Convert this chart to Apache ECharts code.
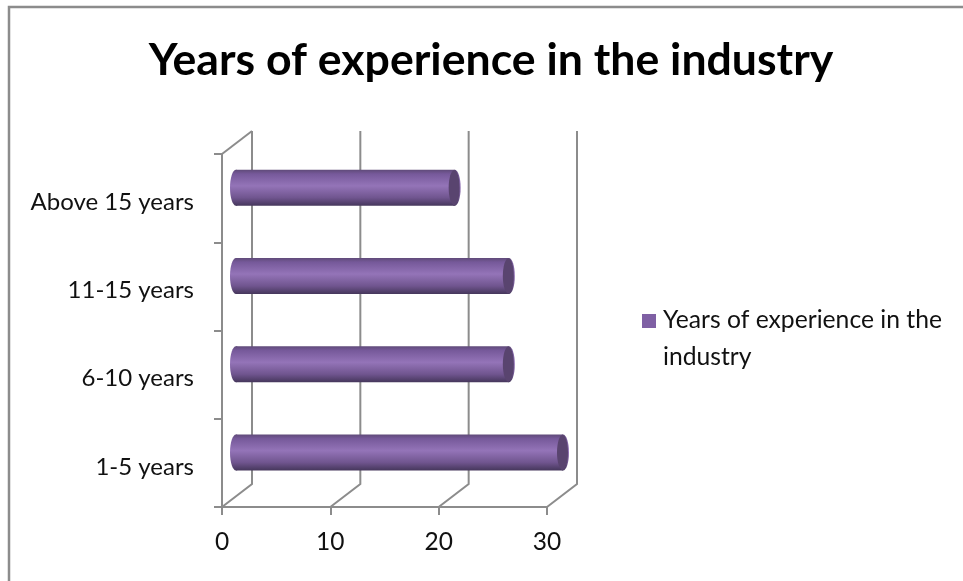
<!DOCTYPE html>
<html>
<head>
<meta charset="utf-8">
<style>html,body{margin:0;padding:0;background:#fff}#c{width:963px;height:581px}</style>
<script src="https://cdn.jsdelivr.net/npm/echarts@6/dist/echarts.min.js"></script>
</head>
<body>
<div id="c"></div>
<script>
const categories = ['1-5 years', '6-10 years', '11-15 years', 'Above 15 years'];
const experience = [30, 25, 25, 20];
const axisTicks = [0, 10, 20, 30];
const seriesName = 'Years of experience in the industry';

// Perspective offset between the front plane of the plot and its back wall.
const DEPTH_X = 30, DEPTH_Y = -23;
const GRID_COLOR = '#8c8c8c';
const FONT = 'Lato, "Noto Sans", sans-serif';

const chart = echarts.init(document.getElementById('c'), null, { renderer: 'canvas' });

function renderWalls(params, api) {
  const v = api.value(0);
  const box = params.coordSys;
  const x = api.coord([v, 0])[0];
  const yBottom = box.y + box.height;
  const yTop = box.y;
  const style = { stroke: GRID_COLOR, lineWidth: 2, fill: null };
  const points = [
    [x, yBottom],
    [x + DEPTH_X, yBottom + DEPTH_Y],
    [x + DEPTH_X, yTop + DEPTH_Y]
  ];
  const children = [{ type: 'polyline', shape: { points }, style }];
  if (v === 0) {
    children.push({ type: 'line', shape: { x1: x, y1: yTop, x2: x + DEPTH_X, y2: yTop + DEPTH_Y }, style });
  }
  return { type: 'group', children };
}

function renderCylinder(params, api) {
  const start = api.coord([0, api.value(1)]);
  const end = api.coord([api.value(0), api.value(1)]);
  const cy = start[1] + DEPTH_Y / 2 + 1;
  const x0 = start[0] + DEPTH_X / 2 - 1;
  const x1 = end[0] + DEPTH_X / 2 + 1;
  const h = 36, rx = 6, ry = h / 2;
  const bodyFill = new echarts.graphic.LinearGradient(0, 0, 0, 1, [
    { offset: 0, color: '#5f4a78' },
    { offset: 0.12, color: '#76599a' },
    { offset: 0.45, color: '#9474b8' },
    { offset: 0.78, color: '#70558f' },
    { offset: 1, color: '#46375c' }
  ]);
  return {
    type: 'group',
    children: [
      { type: 'rect', shape: { x: x0, y: cy - ry, width: x1 - x0, height: h }, style: { fill: bodyFill } },
      { type: 'ellipse', shape: { cx: x0, cy, rx, ry }, style: { fill: bodyFill } },
      { type: 'ellipse', shape: { cx: x1, cy, rx, ry }, style: { fill: bodyFill } },
      { type: 'ellipse', shape: { cx: x1 - 0.5, cy, rx: rx - 0.5, ry: ry - 0.5 }, style: { fill: '#59446f' } }
    ]
  };
}

chart.setOption({
  animation: false,
  backgroundColor: '#fff',
  title: {
    text: seriesName,
    left: 486,
    top: 33,
    textAlign: 'center',
    textStyle: { fontFamily: FONT, fontSize: 44.6, fontWeight: 'bold', color: '#000' }
  },
  legend: {
    left: 637,
    top: 297,
    orient: 'vertical',
    // The swatch sits beside the first line of the wrapped label.
    icon: 'path://M0 0H14V14H0Z M16 50L16 50Z',
    itemWidth: 16,
    itemHeight: 50,
    data: [{ name: seriesName, itemStyle: { color: '#7f60a4' } }],
    textStyle: {
      fontFamily: FONT, fontSize: 24.7, color: '#111', lineHeight: 37,
      width: 295, overflow: 'break'
    }
  },
  grid: { left: 222, top: 154, width: 325, height: 353 },
  xAxis: {
    type: 'value',
    min: 0,
    max: 30,
    interval: 10,
    axisLine: { show: true, lineStyle: { color: GRID_COLOR, width: 2 } },
    axisTick: { show: true, length: 8, lineStyle: { color: GRID_COLOR, width: 2 } },
    axisLabel: { fontFamily: FONT, fontSize: 24.5, color: '#111', margin: 23 },
    splitLine: { show: false }
  },
  yAxis: {
    type: 'category',
    data: categories,
    axisLine: { show: true, lineStyle: { color: GRID_COLOR, width: 2 } },
    axisTick: { show: true, length: 8, lineStyle: { color: GRID_COLOR, width: 2 } },
    axisLabel: {
      margin: 28,
      formatter: '{cat|{value}}',
      rich: { cat: { fontFamily: FONT, fontSize: 24, color: '#111', padding: [8, 0, 0, 0] } }
    }
  },
  series: [
    {
      type: 'custom',
      name: 'walls',
      silent: true,
      z: 1,
      renderItem: renderWalls,
      encode: { x: 0 },
      data: axisTicks.map(v => [v])
    },
    {
      type: 'custom',
      name: seriesName,
      z: 2,
      renderItem: renderCylinder,
      encode: { x: 0, y: 1 },
      itemStyle: { color: '#7f60a4' },
      data: experience.map((v, i) => [v, i])
    }
  ],
  graphic: [{
    type: 'polyline',
    silent: true,
    z: 10,
    shape: { points: [[9, 581], [9, 7], [963, 7]] },
    style: { stroke: '#8c8c8c', lineWidth: 2.5, fill: null }
  }]
});
</script>
</body>
</html>
